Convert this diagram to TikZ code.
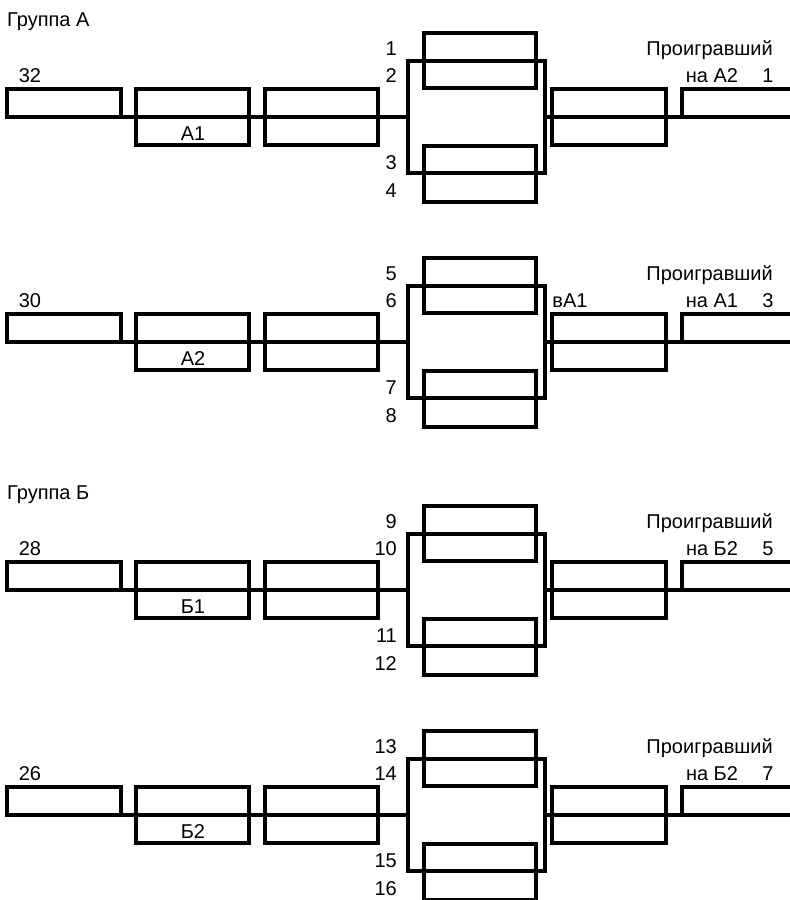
\documentclass[tikz,border=0pt]{standalone}
\usepackage{fontspec}
\setmainfont{Liberation Sans}
\begin{document}
\begin{tikzpicture}[x=1pt,y=-1pt,
  bx/.style={draw=black,line width=3.6pt,rectangle,inner sep=0pt,outer sep=0pt,fill=none},
  wire/.style={draw=black,line width=3.6pt,line cap=butt,line join=miter},
  lab/.style={inner sep=0pt,font=\fontsize{20}{20}\selectfont}]
\useasboundingbox (0,0) rectangle (790,900);
\newcommand\bracketrow[7]{%
\begin{scope}[yshift=-#1pt]
  \node[bx,minimum width=114pt,minimum height=28pt] (#2a) at (64,103) {};
  \node[bx,minimum width=113pt,minimum height=56pt] (#2b) at (192.5,117) {};
  \node[bx,minimum width=113pt,minimum height=56pt] (#2c) at (321.5,117) {};
  \node[bx,minimum width=137pt,minimum height=112pt] (#2big) at (476.5,117) {};
  \node[bx,minimum width=112pt,minimum height=55pt] (#2top) at (480,60.5) {};
  \node[bx,minimum width=112pt,minimum height=56pt] (#2bot) at (480,174) {};
  \node[bx,minimum width=114pt,minimum height=56pt] (#2d) at (609,117) {};
  \coordinate (#2q1) at (682,117);
  \coordinate (#2q2) at (682,89);
  \coordinate (#2q3) at (795,89);
  \coordinate (#2q4) at (795,117);
  \draw[wire] (#2a.south west) -- (#2big.west);
  \draw[wire] (#2big.east) -- (#2q4);
  \draw[wire] (#2q1) -- (#2q2) -- (#2q3);
  \node[lab,anchor=base] (#2ln) at (30,82) {#3};
  \node[lab,anchor=base] (#2bl) at (193,140) {#4};
  \node[lab,anchor=base east] (#2n1) at (397,55) {#5};
  \node[lab,anchor=base east] (#2n2) at (397,82) {\the\numexpr#5+1\relax};
  \node[lab,anchor=base east] (#2n3) at (397,169) {\the\numexpr#5+2\relax};
  \node[lab,anchor=base east] (#2n4) at (397,197) {\the\numexpr#5+3\relax};
  \node[lab,anchor=base east] (#2pr) at (773,55) {Проигравший};
  \node[lab,anchor=base] (#2na) at (712,82) {#6};
  \node[lab,anchor=base] (#2rn) at (768,82) {#7};
\end{scope}}
\node[lab,anchor=base west] (ga) at (7,26) {Группа А};
\bracketrow{0}{r1}{32}{А1}{1}{на А2}{1}
\bracketrow{225}{r2}{30}{А2}{5}{на А1}{3}
\node[lab,anchor=base] (va) at (570,307) {вА1};
\node[lab,anchor=base west] (gb) at (7,499) {Группа Б};
\bracketrow{473}{r3}{28}{Б1}{9}{на Б2}{5}
\bracketrow{698}{r4}{26}{Б2}{13}{на Б2}{7}
\end{tikzpicture}
\end{document}
